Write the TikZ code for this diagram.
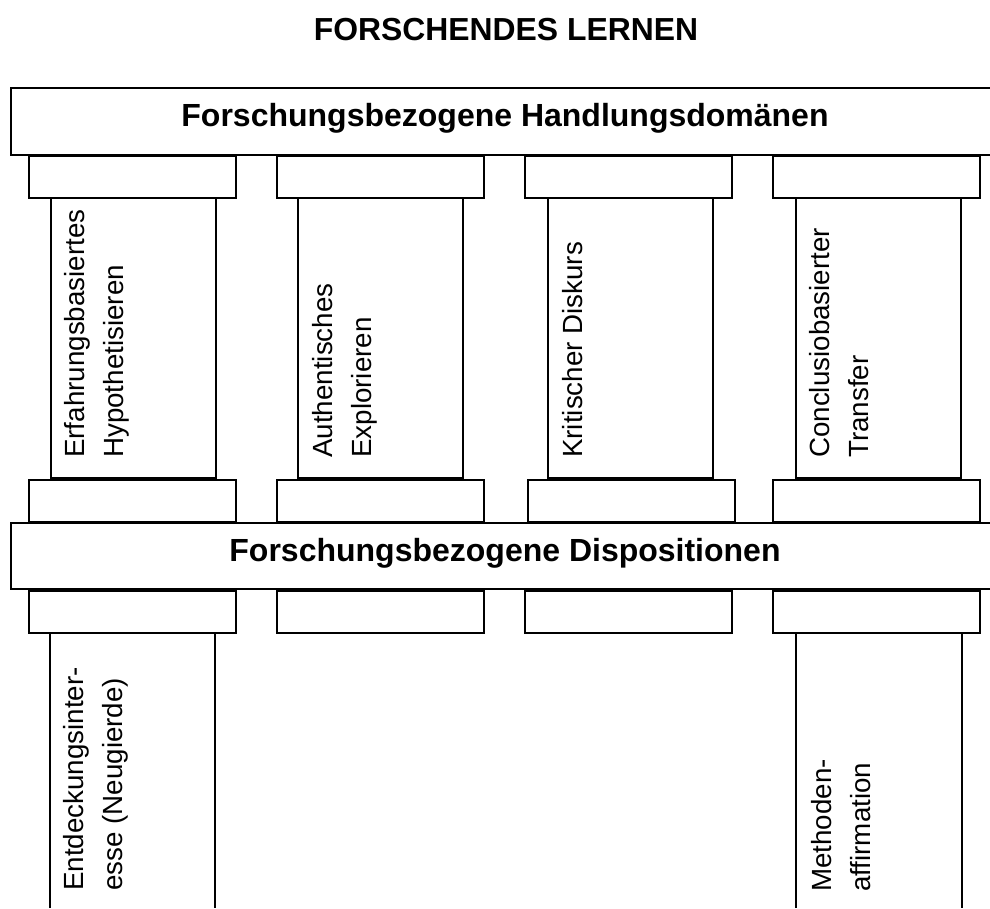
\documentclass[tikz,border=0pt]{standalone}
\usepackage{fontspec}
\setmainfont{Liberation Sans}
\begin{document}
\begin{tikzpicture}[x=0.75pt,y=-0.75pt,
        bar/.style={line width=0.8pt},
        capital/.style={line width=2pt,fill=white},
        column/.style={line width=0.8pt},
        coltext/.style={rotate=90,anchor=north west,inner sep=0pt,align=left,
            font=\fontsize{20.8}{29}\selectfont},
        bartext/.style={font=\bfseries\fontsize{24}{28}\selectfont}]
        \useasboundingbox (0,0) rectangle (990,908);
        % Titel
        \node[font=\bfseries\fontsize{23.9}{27}\selectfont] (title) at (506,30) {FORSCHENDES LERNEN};
        % obere Ebene: Handlungsdomaenen
        \draw[bar] (990,88) -- (11,88) -- (11,155) -- (990,155);
        \node[bartext] (hdom) at (505,118) {Forschungsbezogene Handlungsdomänen};
        \foreach \c/\s in {29/51,277/298,525/548,773/796}{
            \draw[column] (\s,198) rectangle (\s+165,478);
            \draw[capital] (\c,156) rectangle (\c+207,198);
        }
        \draw[capital] (29,480) rectangle (236,522);
        \draw[capital] (277,480) rectangle (484,522);
        \draw[capital] (528,480) rectangle (735,522);
        \draw[capital] (773,480) rectangle (980,522);
        \node[coltext] (eh) at (64,458) {Erfahrungsbasiertes\\Hypothetisieren};
        \node[coltext] (ae) at (312,458) {Authentisches\\Explorieren};
        \node[coltext] (kd) at (562,458) {Kritischer Diskurs};
        \node[coltext] (ct) at (809,458) {Conclusiobasierter\\Transfer};
        % untere Ebene: Dispositionen
        \draw[bar] (990,523) -- (11,523) -- (11,589) -- (990,589);
        \node[bartext] (disp) at (505,553) {Forschungsbezogene Dispositionen};
        \draw[column] (50,908) -- (50,633) -- (215,633) -- (215,908);
        \draw[column] (796,908) -- (796,633) -- (962,633) -- (962,908);
        \foreach \c in {29,277,525,773}
            \draw[capital] (\c,591) rectangle (\c+207,633);
        \node[coltext] (en) at (63,891) {Entdeckungsinter-\\esse (Neugierde)};
        \node[coltext] (ma) at (811,892) {Methoden-\\affirmation};
\end{tikzpicture}
\end{document}
